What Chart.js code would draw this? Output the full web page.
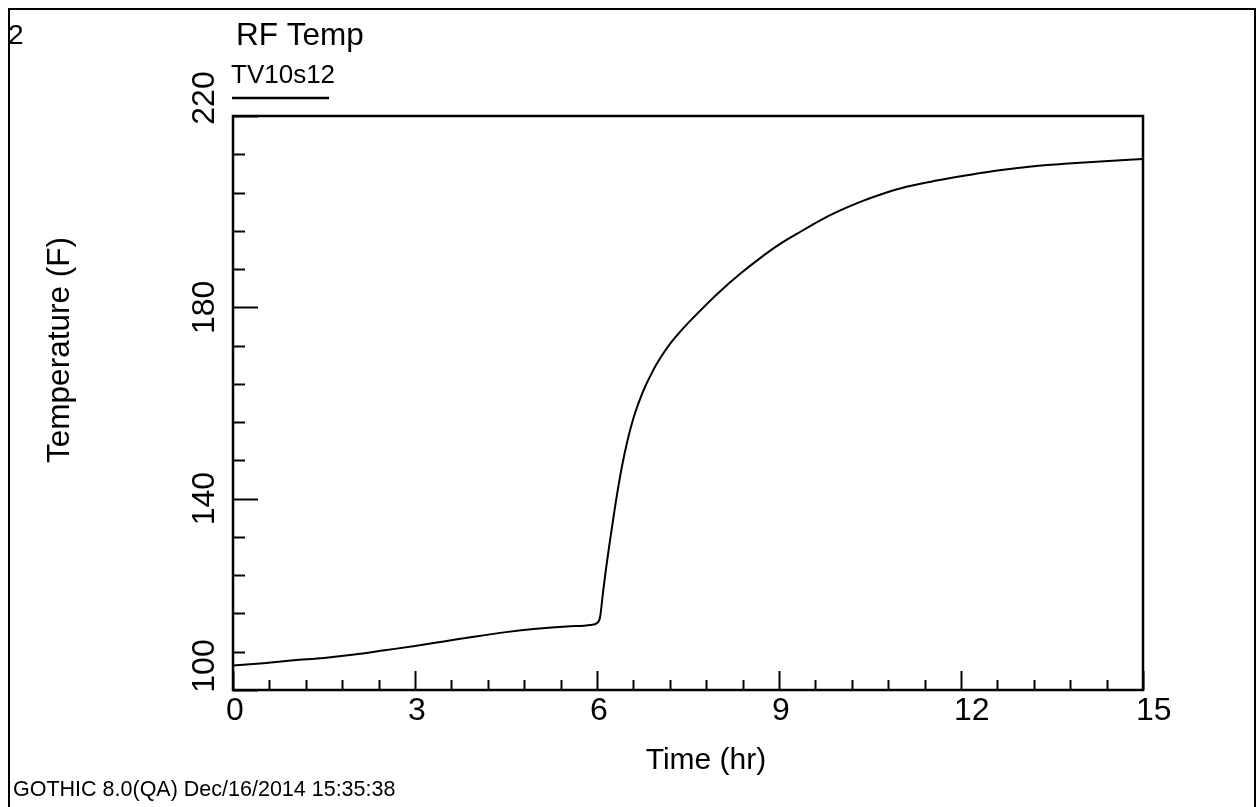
<!DOCTYPE html>
<html>
<head>
<meta charset="utf-8">
<script src="https://cdn.jsdelivr.net/npm/chart.js@4.4.1/dist/chart.umd.min.js"></script>
<style>
html,body{margin:0;padding:0;background:#fff;}
#c{display:block;}
</style>
</head>
<body>
<canvas id="c" width="1256" height="807"></canvas>
<script>
// ---- data ----
const times = [0, 0.5, 1.0, 1.5, 2.0, 2.5, 3.0, 3.5, 4.0, 4.5, 5.0, 5.5, 5.9, 6.0, 6.05, 6.1, 6.15, 6.2, 6.3, 6.4, 6.5, 6.6, 6.7, 6.8, 6.9, 7.0, 7.1, 7.2, 7.35, 7.5, 7.7, 8.0, 8.36, 8.7, 9.0, 9.3, 9.68, 10.0, 10.33, 10.7, 11.1, 11.6, 12.1, 12.6, 13.2, 13.7, 14.3, 15.0];
const temps = [105.1, 105.6, 106.2, 106.7, 107.4, 108.3, 109.2, 110.2, 111.2, 112.1, 112.8, 113.3, 113.6, 114.0, 115.2, 120.5, 125.5, 130.0, 138.5, 146.0, 152.0, 156.8, 160.5, 163.6, 166.2, 168.5, 170.5, 172.3, 174.6, 176.7, 179.3, 183.0, 187.0, 190.4, 193.1, 195.4, 198.2, 200.2, 202.0, 203.7, 205.2, 206.5, 207.6, 208.6, 209.5, 210.0, 210.5, 211.0];
const xTickLabels = ['0', '3', '6', '9', '12', '15'];
const yTickLabels = ['100', '140', '180', '220'];
const seriesName = 'TV10s12';
const chartTitle = 'RF Temp';
const plotNumber = '2';
const xTitle = 'Time (hr)';
const yTitle = 'Temperature (F)';
const footer = 'GOTHIC 8.0(QA) Dec/16/2014 15:35:38';

const FONT = '"Liberation Sans", Arial, sans-serif';

const decor = {
  id: 'decor',
  beforeDraw(chart) {
    const ctx = chart.ctx;
    ctx.save();
    ctx.fillStyle = '#fff';
    ctx.fillRect(0, 0, chart.width, chart.height);
    ctx.restore();
  },
  afterDraw(chart) {
    const ctx = chart.ctx;
    const a = chart.chartArea;
    const xs = chart.scales.x, ys = chart.scales.y;
    ctx.save();
    ctx.strokeStyle = '#000';
    ctx.fillStyle = '#000';
    // outer frame
    ctx.lineWidth = 2;
    ctx.beginPath();
    ctx.moveTo(9, 820); ctx.lineTo(9, 9); ctx.lineTo(1255, 9); ctx.lineTo(1255, 820);
    ctx.stroke();
    // plot box
    ctx.lineWidth = 2.5;
    ctx.strokeRect(a.left, a.top, a.right - a.left, a.bottom - a.top);
    // x ticks
    ctx.lineWidth = 2;
    for (let i = 0; i <= 25; i++) {
      const v = i * 0.6;
      const px = Math.round(xs.getPixelForValue(v)) + 0.5;
      const major = i % 5 === 0;
      ctx.beginPath();
      ctx.moveTo(px, a.bottom);
      ctx.lineTo(px, a.bottom - (major ? 19 : 10));
      ctx.stroke();
    }
    // y ticks
    for (let i = 0; i <= 15; i++) {
      const v = 100 + i * 8;
      const py = Math.round(ys.getPixelForValue(v)) + 0.5;
      const major = i % 5 === 0;
      ctx.beginPath();
      ctx.moveTo(a.left, py);
      ctx.lineTo(a.left + (major ? 25 : 12), py);
      ctx.stroke();
    }
    // x tick labels
    ctx.font = '32px ' + FONT;
    ctx.textAlign = 'left';
    ctx.textBaseline = 'alphabetic';
    xTickLabels.forEach(l => {
      const px = xs.getPixelForValue(parseFloat(l));
      ctx.fillText(l, px - 7, 720);
    });
    // y tick labels (rotated)
    yTickLabels.forEach((l, i) => {
      const v = parseFloat(l);
      let py = ys.getPixelForValue(v);
      if (i === 0) py = 666;
      if (i === yTickLabels.length - 1) py = 98;
      ctx.save();
      ctx.translate(214, py);
      ctx.rotate(-Math.PI / 2);
      ctx.textAlign = 'center';
      ctx.textBaseline = 'alphabetic';
      ctx.fillText(l, 0, 0);
      ctx.restore();
    });
    // axis titles
    ctx.font = '30px ' + FONT;
    ctx.textAlign = 'center';
    ctx.fillText(xTitle, 706, 769);
    ctx.font = '31.5px ' + FONT;
    ctx.save();
    ctx.translate(69, 350);
    ctx.rotate(-Math.PI / 2);
    ctx.fillText(yTitle, 0, 0);
    ctx.restore();
    // title, plot number, series legend
    ctx.textAlign = 'left';
    ctx.font = '31.5px ' + FONT;
    ctx.fillText(chartTitle, 236, 45);
    ctx.font = '28px ' + FONT;
    ctx.fillText(plotNumber, 8, 44);
    ctx.font = '26px ' + FONT;
    ctx.fillText(seriesName, 231, 83);
    ctx.lineWidth = 2.5;
    ctx.beginPath();
    ctx.moveTo(232, 98); ctx.lineTo(329, 98);
    ctx.stroke();
    // footer
    ctx.font = '21.5px ' + FONT;
    ctx.fillText(footer, 13, 796);
    ctx.restore();
  }
};

new Chart(document.getElementById('c'), {
  type: 'line',
  data: {
    datasets: [{
      label: seriesName,
      data: times.map((t, i) => ({ x: t, y: temps[i] })),
      borderColor: '#000',
      borderWidth: 2,
      pointRadius: 0,
      cubicInterpolationMode: 'monotone',
      fill: false
    }]
  },
  options: {
    responsive: false,
    animation: false,
    layout: { padding: { left: 233, top: 116, right: 113, bottom: 117 } },
    scales: {
      x: { type: 'linear', min: 0, max: 15, display: false },
      y: { type: 'linear', min: 100, max: 220, display: false }
    },
    plugins: { legend: { display: false }, tooltip: { enabled: false }, title: { display: false } }
  },
  plugins: [decor]
});
</script>
</body>
</html>
